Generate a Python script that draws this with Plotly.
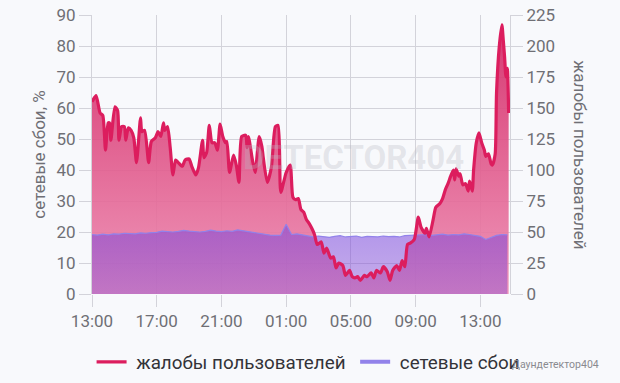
import datetime as dt
import plotly.graph_objects as go

START = dt.datetime(2024, 5, 1, 13, 0)

# complaints (right axis): minutes after 13:00 and number of complaints
complaint_minutes = [0, 15, 30, 40, 50, 60, 65, 70, 85, 95, 100, 110, 120, 125, 135, 145, 155, 165,
                     180, 185, 195, 210, 220, 235, 245, 255, 265, 270, 280, 290, 300, 310, 320, 335,
                     345, 360, 370, 385, 395, 410, 415, 425, 435, 445, 455, 465, 475, 485, 495, 500,
                     510, 525, 535, 545, 555, 570, 575, 580, 595, 605, 620, 630, 635, 650, 665, 680,
                     690, 700, 720, 735, 745, 755, 765, 775, 785, 795, 805, 815, 825, 835, 850, 860,
                     870, 885, 895, 905, 915, 930, 940, 955, 965, 975, 985, 995, 1010, 1020, 1035,
                     1045, 1055, 1070, 1080, 1095, 1105, 1115, 1130, 1140, 1150, 1160, 1170, 1180,
                     1195, 1210, 1220, 1235, 1240, 1250, 1265, 1275, 1290, 1300, 1310, 1320, 1330,
                     1340, 1345, 1350, 1360, 1365, 1375, 1385, 1395, 1400, 1410, 1415, 1425, 1435,
                     1445, 1455, 1460, 1470, 1480, 1485, 1495, 1500, 1510, 1520, 1525, 1530, 1535,
                     1540, 1545]
complaint_values = [155, 160, 146, 144, 116, 138, 138, 124, 151, 148, 124, 135, 135, 124, 134, 132,
                    126, 106, 142, 131, 132, 106, 123, 126, 131, 127, 138, 132, 135, 118, 96, 108,
                    106, 103, 108, 109, 103, 96, 102, 124, 110, 114, 136, 122, 122, 116, 137, 127,
                    122, 123, 98, 112, 104, 90, 127, 128, 118, 127, 108, 98, 127, 119, 110, 90, 102,
                    135, 136, 82, 98, 104, 78, 76, 77, 68, 66, 60, 57, 53, 48, 40, 42, 33, 37, 29,
                    30, 21, 25, 23, 15, 19, 14, 13, 14, 11, 15, 14, 17, 13, 19, 17, 22, 18, 11, 19,
                    23, 19, 27, 22, 40, 41, 44, 62, 54, 49, 53, 46, 60, 70, 73, 77, 84, 89, 95, 100,
                    92, 101, 95, 97, 88, 89, 83, 91, 83, 100, 122, 130, 122, 116, 111, 113, 105, 104,
                    113, 162, 199, 217, 205, 191, 175, 182, 146]

# network failures (left axis, %), every 20 minutes from 13:00
network_step_min = 20
network_values = [19.2, 19.0, 19.3, 19.1, 19.4, 19.3, 19.6, 19.5, 19.4, 19.7, 19.6,
                  19.8, 19.9, 20.3, 20.1, 20.0, 20.2, 20.5, 20.3, 20.1, 20.0, 20.2, 20.6, 20.3,
                  20.1, 20.4, 20.2, 20.7, 20.4, 20.2, 20.0,
                  19.6, 19.3, 19.0, 18.9, 19.0, 22.5, 19.2, 19.4, 19.0,
                  18.6, 18.4, 18.7, 18.5, 18.3, 18.6, 18.8, 18.4, 18.5, 18.7, 18.3, 18.6, 18.5,
                  18.4, 18.7, 18.5, 18.6, 18.4, 18.8,
                  18.9, 19.1, 19.0, 19.2, 18.9, 19.1, 19.3, 19.0, 19.2, 19.1, 19.4, 19.2, 19.0,
                  18.6, 17.6, 18.3, 18.9, 19.2, 19.1]

left_ticks = [0, 10, 20, 30, 40, 50, 60, 70, 80, 90]
right_ticks = [0, 25, 50, 75, 100, 125, 150, 175, 200, 225]
x_end_min = 1550

c_times = [START + dt.timedelta(minutes=m) for m in complaint_minutes]
n_times = [START + dt.timedelta(minutes=i * network_step_min) for i in range(len(network_values))]

PINK = "#dc1d5e"
VIOLET = "#9282ea"
GRID = "#d3d3da"
TICKC = "#6f6f75"
FONT = "Roboto"
NB = "\u00a0"

fig = go.Figure()

# complaints fill (bottom layer)
fig.add_trace(go.Scatter(
    x=c_times, y=complaint_values, yaxis="y", mode="lines",
    line=dict(width=0, color=PINK), fill="tozeroy",
    fillgradient=dict(type="vertical",
                      colorscale=[[0, "rgba(238,140,178,0.9)"], [1, "rgba(212,40,102,0.92)"]]),
    showlegend=False, hoverinfo="skip"))

# network fill
fig.add_trace(go.Scatter(
    x=n_times, y=network_values, yaxis="y2", mode="lines",
    line=dict(width=1.2, color=VIOLET), fill="tozeroy",
    fillgradient=dict(type="vertical",
                      colorscale=[[0, "rgba(132,72,210,0.42)"], [1, "rgba(122,72,222,0.57)"]]),
    showlegend=False, hoverinfo="skip"))

# complaints line (top layer)
fig.add_trace(go.Scatter(
    x=c_times, y=complaint_values, yaxis="y3", mode="lines",
    line=dict(width=3.2, color=PINK, shape="spline", smoothing=0.6),
    name=NB + "жалобы пользователей" + NB, legendrank=1))

# legend sample for network failures (thicker line in legend only)
fig.add_trace(go.Scatter(
    x=[None], y=[None], yaxis="y2", mode="lines",
    line=dict(width=4, color=VIOLET), name=NB + "сетевые сбои", legendrank=2))

fig.update_layout(
    template="none",
    width=620, height=383,
    margin=dict(l=92, r=110, t=15, b=89, pad=0, autoexpand=False),
    paper_bgcolor="#f8f9fc", plot_bgcolor="#f8f9fc",
    font=dict(family=FONT, size=17, color=TICKC),
    xaxis=dict(type="date", range=[START, START + dt.timedelta(minutes=x_end_min)],
               tick0=START, dtick=4 * 3600 * 1000, tickformat="%H:%M",
               showgrid=True, gridcolor=GRID, gridwidth=1, automargin=False,
               ticks="outside", ticklen=12, tickcolor=GRID,
               showline=False, zeroline=False,
               tickfont=dict(size=17, color=TICKC)),
    yaxis=dict(range=[0, 225], tickvals=right_ticks, side="right", automargin=False,
               showgrid=True, gridcolor=GRID, zeroline=False,
               ticks="outside", ticklen=12, tickcolor=GRID,
               showline=True, mirror=True, linecolor=GRID,
               tickfont=dict(size=17, color=TICKC)),
    yaxis2=dict(range=[0, 90], tickvals=left_ticks, side="left", overlaying="y",
                showgrid=False, zeroline=False, automargin=False,
                ticks="outside", ticklen=12, tickcolor=GRID,
                title=dict(text="сетевые сбои, %", font=dict(size=17, color=TICKC), standoff=6),
                tickfont=dict(size=17, color=TICKC)),
    yaxis3=dict(range=[0, 225], overlaying="y", visible=False, automargin=False),
    legend=dict(orientation="h", xref="paper", x=-0.001, xanchor="left",
                yref="paper", y=-0.244, yanchor="middle",
                font=dict(size=18.8, color="#333338"), itemwidth=30,
                bgcolor="rgba(0,0,0,0)", traceorder="normal"),
    annotations=[
        dict(text="жалобы пользователей", textangle=90, xref="paper", yref="paper",
             x=1.168, y=0.5, xanchor="center", yanchor="middle", showarrow=False,
             font=dict(size=17, color=TICKC)),
        dict(text="<b>DETECTOR404</b>", xref="paper", yref="paper", x=0.625, y=0.49,
             xanchor="center", yanchor="middle", showarrow=False,
             font=dict(size=33, color="rgba(185,185,195,0.32)")),
        dict(text="Даундетектор404", xref="paper", yref="paper", x=1.108, y=-0.252,
             xanchor="center", yanchor="middle", showarrow=False,
             font=dict(size=10.5, color="#8a8a90")),
    ],
)

fig.write_html("out.html")
